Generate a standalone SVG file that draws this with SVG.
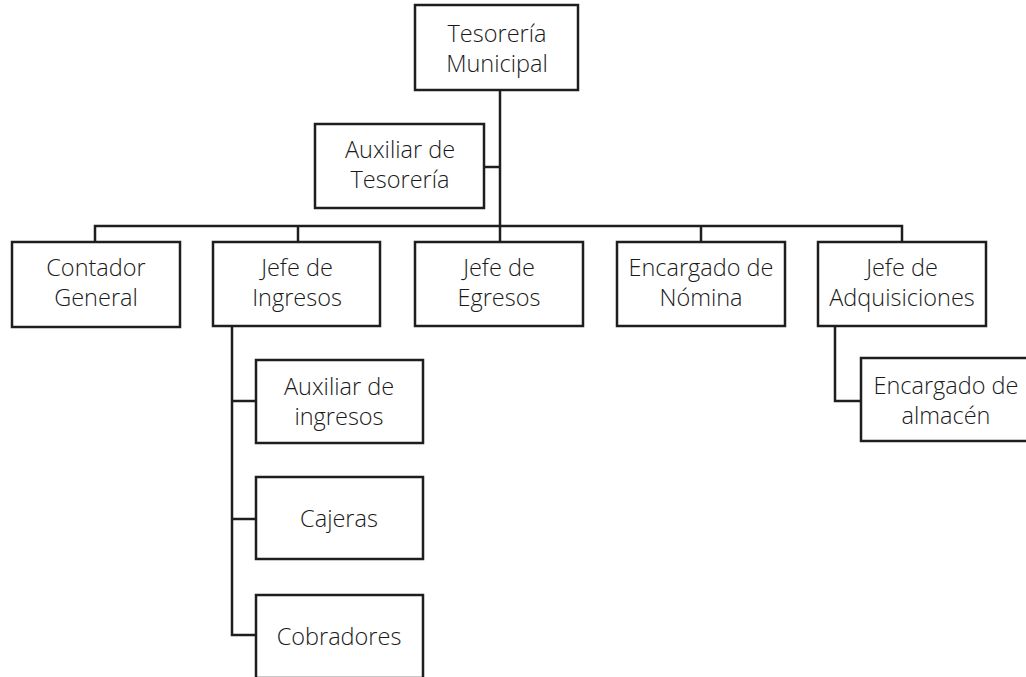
<svg xmlns="http://www.w3.org/2000/svg" width="1026" height="677" viewBox="0 0 1026 677">
<style>
.box{fill:#fff;stroke:#1e1e1e;stroke-width:2.5}
.lbl{font-family:"Open Sans","Liberation Sans",sans-serif;font-weight:300;font-size:23.5px;fill:#1a1a1a;text-anchor:middle}
.con{fill:none;stroke:#1e1e1e;stroke-width:2.5}
</style>
<rect width="1026" height="677" fill="#fff"/>
<g id="connectors">
<path class="con" d="M500,90 V242"/>
<path class="con" d="M484,167 H500"/>
<path class="con" d="M95,242 V226 H902 V242"/>
<path class="con" d="M298,226 V242"/>
<path class="con" d="M701,226 V242"/>
<path class="con" d="M232,326 V635 H256"/>
<path class="con" d="M232,401 H256"/>
<path class="con" d="M232,519 H256"/>
<path class="con" d="M835,326 V401 H861"/>
</g>
<g id="n_tesoreria"><rect class="box" x="415" y="5" width="163" height="85"/><text class="lbl" x="497" y="42">Tesorería</text><text class="lbl" x="497" y="72">Municipal</text></g>
<g id="n_aux_tesoreria"><rect class="box" x="315" y="124" width="169" height="84"/><text class="lbl" x="400" y="158">Auxiliar de</text><text class="lbl" x="400" y="188">Tesorería</text></g>
<g id="n_contador"><rect class="box" x="12" y="242" width="168" height="85"/><text class="lbl" x="96" y="276">Contador</text><text class="lbl" x="96" y="306">General</text></g>
<g id="n_ingresos"><rect class="box" x="213" y="242" width="167" height="84"/><text class="lbl" x="297" y="276">Jefe de</text><text class="lbl" x="297" y="306">Ingresos</text></g>
<g id="n_egresos"><rect class="box" x="415" y="242" width="168" height="84"/><text class="lbl" x="499" y="276">Jefe de</text><text class="lbl" x="499" y="306">Egresos</text></g>
<g id="n_nomina"><rect class="box" x="617" y="242" width="168" height="84"/><text class="lbl" x="701" y="276">Encargado de</text><text class="lbl" x="701" y="306">Nómina</text></g>
<g id="n_adquisiciones"><rect class="box" x="818" y="242" width="168" height="84"/><text class="lbl" x="902" y="276">Jefe de</text><text class="lbl" x="902" y="306">Adquisiciones</text></g>
<g id="n_almacen"><rect class="box" x="861" y="358" width="169" height="83"/><text class="lbl" x="946" y="394">Encargado de</text><text class="lbl" x="946" y="424">almacén</text></g>
<g id="n_aux_ingresos"><rect class="box" x="256" y="360" width="167" height="83"/><text class="lbl" x="339" y="395">Auxiliar de</text><text class="lbl" x="339" y="425">ingresos</text></g>
<g id="n_cajeras"><rect class="box" x="256" y="477" width="167" height="82"/><text class="lbl" x="339" y="527">Cajeras</text></g>
<g id="n_cobradores"><rect class="box" x="256" y="595" width="167" height="83"/><text class="lbl" x="339" y="645">Cobradores</text></g>
</svg>
